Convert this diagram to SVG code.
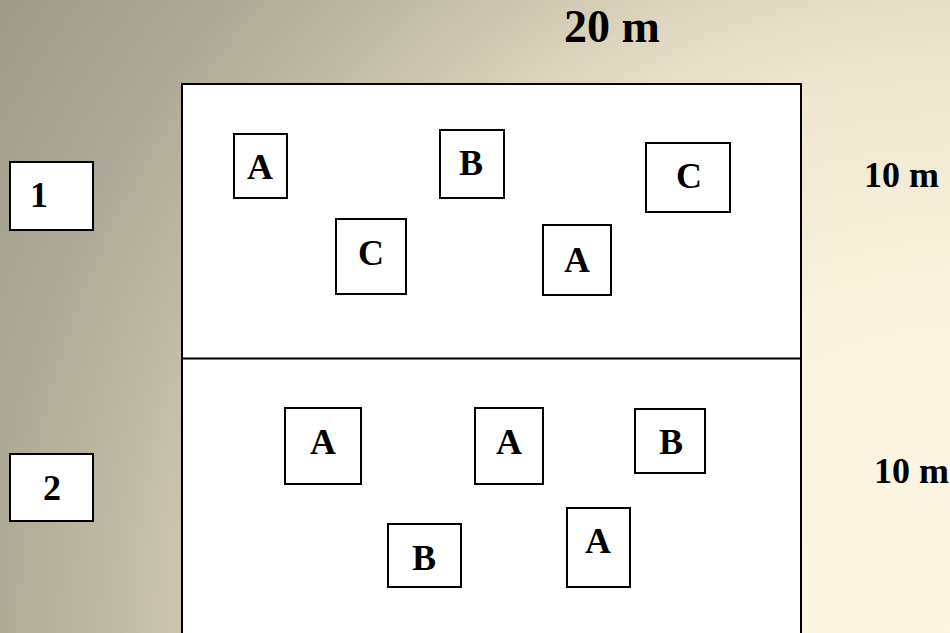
<svg xmlns="http://www.w3.org/2000/svg" width="950" height="633" viewBox="0 0 950 633">
<defs>
<radialGradient id="bg" gradientUnits="userSpaceOnUse" cx="950" cy="633" r="1150">
<stop offset="0" stop-color="#fdf6e0"/>
<stop offset="0.3" stop-color="#f9f2dc"/>
<stop offset="0.5" stop-color="#ede5cd"/>
<stop offset="0.6" stop-color="#dbd3bb"/>
<stop offset="0.72" stop-color="#c0bba7"/>
<stop offset="0.86" stop-color="#a9a693"/>
<stop offset="1" stop-color="#9d9a88"/>
</radialGradient>
<style>
.box{fill:#ffffff;stroke:#000000;stroke-width:2}
.t{font-family:"Liberation Serif","Times New Roman",serif;font-weight:bold;font-size:36px;fill:#000000}
.big{font-size:46px}
.c{text-anchor:middle}
</style>
</defs>
<rect x="0" y="0" width="950" height="633" fill="url(#bg)"/>
<g id="field">
<rect class="box" x="182" y="84" width="619" height="560"/>
<line x1="182" y1="358.5" x2="801" y2="358.5" stroke="#000" stroke-width="2"/>
</g>
<g id="labels">
<text class="t big" x="564" y="42">20 m</text>
<text class="t" x="864" y="187">10 m</text>
<text class="t" x="874" y="483">10 m</text>
</g>
<g id="block1"><rect class="box" x="10" y="162" width="83" height="68"/><text class="t c" x="39" y="207">1</text></g>
<g id="block2"><rect class="box" x="10" y="454" width="83" height="67"/><text class="t c" x="52" y="500">2</text></g>
<g id="p1A1"><rect class="box" x="234" y="134" width="53" height="64"/><text class="t c" x="260" y="179">A</text></g>
<g id="p1B1"><rect class="box" x="440" y="130" width="64" height="68"/><text class="t c" x="471" y="175">B</text></g>
<g id="p1C1"><rect class="box" x="646" y="143" width="84" height="69"/><text class="t c" x="689" y="188">C</text></g>
<g id="p1C2"><rect class="box" x="336" y="219" width="70" height="75"/><text class="t c" x="371" y="265">C</text></g>
<g id="p1A2"><rect class="box" x="543" y="225" width="68" height="70"/><text class="t c" x="577" y="272">A</text></g>
<g id="p2A1"><rect class="box" x="285" y="408" width="76" height="76"/><text class="t c" x="323" y="454">A</text></g>
<g id="p2A2"><rect class="box" x="475" y="408" width="68" height="76"/><text class="t c" x="509" y="454">A</text></g>
<g id="p2B1"><rect class="box" x="635" y="409" width="70" height="64"/><text class="t c" x="671" y="454">B</text></g>
<g id="p2B2"><rect class="box" x="388" y="524" width="73" height="63"/><text class="t c" x="424" y="570">B</text></g>
<g id="p2A3"><rect class="box" x="567" y="508" width="63" height="79"/><text class="t c" x="598" y="553">A</text></g>
<g id="connectors"></g>
</svg>
